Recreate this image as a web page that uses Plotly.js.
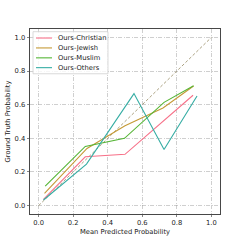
<!DOCTYPE html>
<html><head><meta charset="utf-8">
<script src="https://cdn.plot.ly/plotly-3.0.1.min.js"></script>
<style>html,body{margin:0;padding:0;background:#fff}#c{width:245px;height:245px}</style>
</head><body><div id="c"></div>
<script>
const seriesNames = ["Ours-Christian", "Ours-Jewish", "Ours-Muslim", "Ours-Others"];
const seriesColors = ["#f77189", "#c59a37", "#55b536", "#36ada4"];
const christianX = [0.028, 0.27, 0.50, 0.894];
const christianY = [0.037, 0.29, 0.305, 0.656];
const jewishX = [0.034, 0.28, 0.50, 0.72, 0.897];
const jewishY = [0.073, 0.34, 0.475, 0.58, 0.711];
const muslimX = [0.038, 0.27, 0.497, 0.726, 0.897];
const muslimY = [0.116, 0.352, 0.40, 0.614, 0.713];
const othersX = [0.028, 0.277, 0.552, 0.726, 0.917];
const othersY = [0.033, 0.247, 0.666, 0.334, 0.652];
const diagX = [0, 1];
const diagY = [0, 1];
const tickVals = [0, 0.2, 0.4, 0.6, 0.8, 1.0];
const tickText = ["0.0", "0.2", "0.4", "0.6", "0.8", "1.0"];
const xTitle = "Mean Predicted Probability";
const yTitle = "Ground Truth Probability";

const FS = 6.75;
const FONT = "DejaVu Sans";
const xs = [christianX, jewishX, muslimX, othersX];
const ys = [christianY, jewishY, muslimY, othersY];

const traces = [{
  x: diagX, y: diagY, mode: "lines", showlegend: false, hoverinfo: "skip",
  line: {color: "rgb(172,162,130)", width: 1, dash: "3px,2px"}
}];
xs.forEach((x, i) => traces.push({
  x: x, y: ys[i], mode: "lines", name: seriesNames[i], showlegend: false,
  line: {color: seriesColors[i], width: 1.1}
}));

// custom legend (matplotlib style)
const shapes = [{
  type: "rect", xref: "paper", yref: "paper",
  x0: 0.0158, x1: 0.4105, y0: 0.758, y1: 0.9854,
  line: {color: "#d0d0d0", width: 0.8}, fillcolor: "rgba(255,255,255,0.8)", layer: "above"
}];
const annotations = [];
const rowPx = [38.3, 48.2, 58.1, 67.9];
seriesNames.forEach((n, i) => {
  const yp = (214 - rowPx[i]) / 184.7;
  shapes.push({type: "line", xref: "paper", yref: "paper", x0: 0.0316, x1: 0.1158, y0: yp, y1: yp,
    line: {color: seriesColors[i], width: 1.1}, layer: "above"});
  annotations.push({xref: "paper", yref: "paper", x: 0.138, y: yp, xanchor: "left", yanchor: "middle",
    text: n, showarrow: false, font: {family: FONT, size: FS, color: "#222"}});
});

const axisCommon = {
  tickvals: tickVals, ticktext: tickText, ticks: "outside", ticklen: 2.4, tickwidth: 0.6,
  tickcolor: "#333", showline: true, linecolor: "#333", linewidth: 0.9, mirror: true,
  showgrid: true, gridcolor: "rgba(150,150,150,0.65)", gridwidth: 0.7, griddash: "4px,1.5px,1px,1.5px",
  zeroline: false, tickfont: {family: FONT, size: FS, color: "#222"}
};

const layout = {
  width: 245, height: 245,
  margin: {l: 30, r: 25, t: 29.3, b: 31, pad: 0},
  paper_bgcolor: "#fff", plot_bgcolor: "#fff",
  showlegend: false,
  xaxis: Object.assign({}, axisCommon, {range: [-0.05, 1.05],
    title: {text: xTitle, font: {family: FONT, size: FS, color: "#222"}, standoff: 2}}),
  yaxis: Object.assign({}, axisCommon, {range: [-0.05, 1.05],
    title: {text: yTitle, font: {family: FONT, size: FS, color: "#222"}, standoff: 3}}),
  shapes: shapes, annotations: annotations
};

Plotly.newPlot("c", traces, layout, {staticPlot: true, displayModeBar: false});
</script></body></html>
